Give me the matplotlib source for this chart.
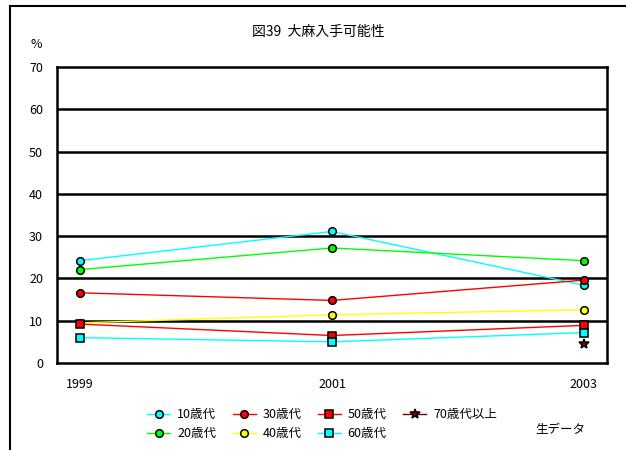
import matplotlib
matplotlib.use("Agg")
import matplotlib.pyplot as plt
from matplotlib.lines import Line2D

plt.rcParams['font.family'] = ['Noto Sans CJK JP', 'DejaVu Sans']

# data
years = ['1999', '2001', '2003']
labels = ['10歳代', '20歳代', '30歳代', '40歳代', '50歳代', '60歳代', '70歳代以上']
v10 = [24.2, 31.1, 18.4]
v20 = [22.1, 27.2, 24.2]
v30 = [16.6, 14.8, 19.6]
v40 = [9.5, 11.4, 12.6]
v50 = [9.2, 6.5, 8.9]
v60 = [6.0, 5.0, 7.2]
v70 = [None, None, 4.6]

series = [v10, v20, v30, v40, v50, v60, v70]
colors = ['#00ffff', '#00ff00', '#ff0000', '#ffff00', '#ff0000', '#00ffff', '#800000']
markers = ['o', 'o', 'o', 'o', 's', 's', '*']

W, H = 626, 450
fig = plt.figure(figsize=(W / 100, H / 100), dpi=100)

# axes box in pixels
left, right, top, bottom = 57, 607, 67, 363
ax = fig.add_axes([left / W, 1 - bottom / H, (right - left) / W, (bottom - top) / H])

x = list(range(len(years)))
for vals, c, m, lab in zip(series, colors, markers, labels):
    xs = [i for i, v in zip(x, vals) if v is not None]
    ys = [v for v in vals if v is not None]
    ms = 7 if m == '*' else 5.5
    ax.plot(xs, ys, color=c, lw=1, marker=m, markersize=ms,
            markerfacecolor=c, markeredgecolor='black', markeredgewidth=1.1,
            label=lab, zorder=3)

ax.set_xlim(-0.092, 2.092)
ax.set_ylim(0, 70)
ax.set_yticks(range(0, 71, 10))
ax.set_xticks(x)
ax.set_xticklabels(years)
for yv in range(10, 70, 10):
    ax.axhline(yv, color='black', lw=1.8, zorder=1)
for s in ax.spines.values():
    s.set_linewidth(1.8)
ax.tick_params(length=0, labelsize=9)
ax.tick_params(axis='x', pad=11)
ax.tick_params(axis='y', pad=10)

fig.text(318 / W, 1 - 32 / H, '図39  大麻入手可能性', ha='center', va='center', fontsize=10)
fig.text(36 / W, 1 - 45 / H, '%', ha='center', va='center', fontsize=9)
fig.text(560 / W, 1 - 430 / H, '生データ', ha='center', va='center', fontsize=9)

ax.legend(ncol=4, loc='center left', bbox_to_anchor=(141 / W, 1 - 424 / H),
          bbox_transform=fig.transFigure, frameon=False, fontsize=9,
          handlelength=1.85, handletextpad=0.55, columnspacing=1.3,
          labelspacing=0.5, borderpad=0)

# outer chart frame
fig.add_artist(Line2D([10 / W, 10 / W], [0, 1 - 6 / H], color='black', lw=1.5,
                      transform=fig.transFigure))
fig.add_artist(Line2D([10 / W, 1], [1 - 6 / H, 1 - 6 / H], color='black', lw=1.5,
                      transform=fig.transFigure))

fig.savefig('out.png', dpi=100)
